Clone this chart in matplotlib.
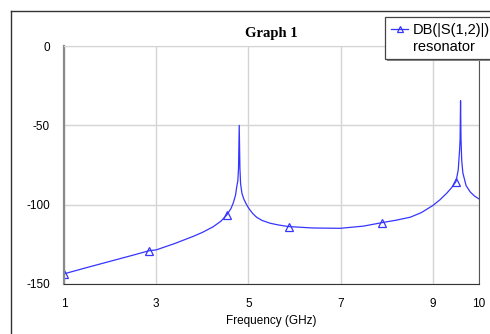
import matplotlib
matplotlib.use("Agg")
import matplotlib.pyplot as plt
from matplotlib.lines import Line2D
from matplotlib.patches import Rectangle

# S12 of the resonator
freq_ghz = [1.0, 1.5, 2.0, 2.5, 2.85, 3.0, 3.4, 3.8, 4.0, 4.23, 4.4, 4.53, 4.62,
            4.67, 4.72, 4.75, 4.77, 4.785, 4.80, 4.815, 4.83, 4.86, 4.9, 4.95,
            5.0, 5.05, 5.1, 5.18, 5.3, 5.47, 5.65, 5.87, 6.4, 6.99, 7.5, 7.9,
            8.2, 8.51, 8.75, 9.0, 9.15, 9.3, 9.4, 9.5, 9.55, 9.58, 9.59, 9.60,
            9.61, 9.625, 9.65, 9.72, 9.81, 9.9, 10.0]
s12_db = [-143.6, -139.6, -135.7, -131.8, -129.0, -128.5, -124.5, -120.0,
          -117.5, -114.0, -110.5, -106.5, -102.5, -99.0, -94.0, -88.0, -85.0,
          -77.0, -50.0, -77.0, -87.0, -93.0, -96.5, -99.5, -102.0, -104.0,
          -105.8, -108.0, -110.0, -111.7, -112.8, -113.8, -114.7, -114.9,
          -113.5, -111.3, -109.8, -107.9, -105.0, -100.5, -97.0, -92.8, -89.5,
          -85.5, -78.0, -65.0, -59.0, -34.5, -59.0, -72.0, -80.0, -88.0, -92.0,
          -94.5, -96.4]
marker_freqs = [1.0, 2.85, 4.53, 5.87, 7.9, 9.5]

x_ticks = [1, 3, 5, 7, 9, 10]
y_ticks = [0, -50, -100, -150]

W, H = 490, 334
BLUE = "#3535ff"
SANS = "Liberation Sans"


def fx(px):
    return px / W


def fy(py):
    return 1 - py / H


fig = plt.figure(figsize=(W / 100, H / 100), dpi=100)
ax = fig.add_axes([fx(64), fy(284), (479 - 64) / W, (284 - 46) / H])

marks = [freq_ghz.index(f) for f in marker_freqs]
ax.plot(freq_ghz, s12_db, color=BLUE, lw=0.9, marker="^", markevery=marks,
        markersize=5.5, mfc="none", mec=BLUE, mew=0.9)

ax.set_xlim(1, 10)
ax.set_ylim(-150, 0)
ax.set_xticks(x_ticks)
ax.set_yticks(y_ticks)
ax.set_xticklabels([str(t) for t in x_ticks], fontfamily=SANS, fontsize=8.5)
ax.set_yticklabels([str(t) for t in y_ticks], fontfamily=SANS, fontsize=8.5)
ax.tick_params(length=0, pad=10)
ax.grid(True, color="#d4d4d4", lw=1)
ax.set_axisbelow(True)
ax.set_xlabel("Frequency (GHz)", fontfamily=SANS, fontsize=8.5, labelpad=4)

ax.spines["left"].set_color("#8a8a8a")
ax.spines["left"].set_linewidth(1.6)
ax.spines["bottom"].set_color("#333333")
ax.spines["right"].set_color("#555555")
ax.spines["top"].set_color("#d4d4d4")

fig.text(fx(271), fy(33), "Graph 1", ha="center", va="center",
         fontfamily="Liberation Serif", fontweight="bold", fontsize=10.5)

# outer frame (cropped on right and bottom)
fig.add_artist(Line2D([fx(11), fx(11)], [fy(11), 0], color="#333333", lw=1))
fig.add_artist(Line2D([fx(11), 1], [fy(11), fy(11)], color="#333333", lw=1))

# legend box with shadow
fig.add_artist(Rectangle((fx(387), fy(61)), 0.3, (61 - 19) / H,
                         transform=fig.transFigure, fc="#8a8a8a", ec="none"))
fig.add_artist(Rectangle((fx(385), fy(59)), 0.3, (59 - 17) / H,
                         transform=fig.transFigure, fc="white", ec="#444444",
                         lw=0.9))
fig.add_artist(Line2D([fx(391), fx(408)], [fy(29), fy(29)], color=BLUE,
                      lw=0.9))
fig.add_artist(Line2D([fx(399.5)], [fy(29)], color=BLUE, lw=0, marker="^",
                      markersize=5, mfc="none", mec=BLUE, mew=0.9))
fig.text(fx(413), fy(30), "DB(|S(1,2)|)", ha="left", va="center",
         fontfamily=SANS, fontsize=10.5)
fig.text(fx(413), fy(47), "resonator", ha="left", va="center",
         fontfamily=SANS, fontsize=10.5)

fig.savefig("out.png", dpi=100)
